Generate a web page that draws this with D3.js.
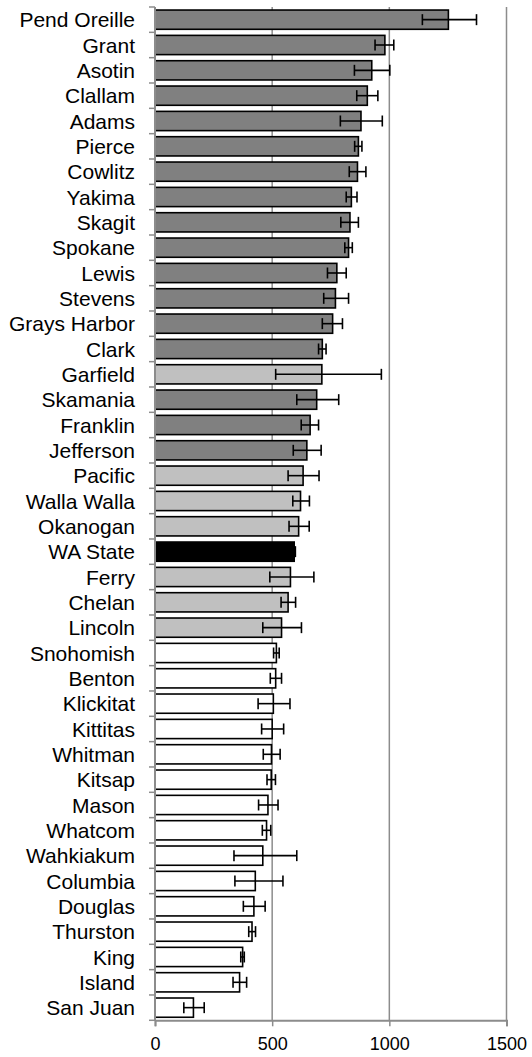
<!DOCTYPE html>
<html>
<head>
<meta charset="utf-8">
<script src="https://cdn.jsdelivr.net/npm/d3@7"></script>
<style>
  html, body { margin: 0; padding: 0; background: #fff; }
  svg { display: block; font-family: "Liberation Sans", Arial, sans-serif; }
</style>
</head>
<body>
<svg id="chart" width="532" height="1057"></svg>
<script>
// County rates with lower / upper confidence limits
const counties = ["Pend Oreille","Grant","Asotin","Clallam","Adams","Pierce","Cowlitz","Yakima","Skagit","Spokane",
  "Lewis","Stevens","Grays Harbor","Clark","Garfield","Skamania","Franklin","Jefferson","Pacific","Walla Walla",
  "Okanogan","WA State","Ferry","Chelan","Lincoln","Snohomish","Benton","Klickitat","Kittitas","Whitman",
  "Kitsap","Mason","Whatcom","Wahkiakum","Columbia","Douglas","Thurston","King","Island","San Juan"];
const rates = [1252,981,925,906,879,868,864,838,832,826,
  776,770,758,714,712,690,662,648,632,621,
  613,594,578,568,540,518,515,505,500,497,
  496,482,476,460,428,422,414,374,361,164];
const lower = [1141,939,851,861,791,852,829,816,793,810,
  736,720,714,698,515,605,624,590,568,588,
  572,589,490,538,460,506,492,440,455,462,
  478,442,458,337,341,377,400,366,333,123];
const upper = [1372,1019,1002,951,970,883,900,862,868,842,
  816,826,800,730,966,784,698,709,700,659,
  658,599,678,600,625,530,540,576,549,534,
  514,525,494,605,546,470,429,381,391,210];
// Comparison group of each county relative to the state rate
const groups = ["higher","higher","higher","higher","higher","higher","higher","higher","higher","higher",
  "higher","higher","higher","higher","similar","higher","higher","higher","similar","similar",
  "similar","state","similar","similar","similar","lower","lower","lower","lower","lower",
  "lower","lower","lower","lower","lower","lower","lower","lower","lower","lower"];
const xTicks = [0, 500, 1000, 1500];

const svg = d3.select("#chart");
const plotLeft = 155, plotRight = 506.5, plotTop = 7, plotBottom = 1020.3;

const x = d3.scaleLinear().domain([0, 1500]).range([plotLeft, plotRight]);
const y = d3.scaleBand().domain(counties).range([plotTop, plotBottom])
  .paddingInner(0.24).paddingOuter(0.12);
const fill = d3.scaleOrdinal()
  .domain(["higher","similar","state","lower"])
  .range(["#808080","#c0c0c0","#000000","#ffffff"]);

const axisColor = "#8c8c8c";

// vertical gridlines
svg.append("g").selectAll("line").data(xTicks.slice(1)).join("line")
  .attr("x1", d => x(d)).attr("x2", d => x(d))
  .attr("y1", plotTop).attr("y2", plotBottom)
  .attr("stroke", axisColor).attr("stroke-width", 1.5);

// bars
svg.append("g").selectAll("rect").data(counties).join("rect")
  .attr("x", x(0))
  .attr("y", d => y(d))
  .attr("width", (d, i) => x(rates[i]) - x(0))
  .attr("height", y.bandwidth())
  .attr("fill", (d, i) => fill(groups[i]))
  .attr("stroke", "#000").attr("stroke-width", 1.6);

// error bars
const capH = 11;
const eb = svg.append("g").attr("stroke", "#000").attr("stroke-width", 1.6);
counties.forEach((c, i) => {
  const cy = y(c) + y.bandwidth() / 2;
  eb.append("line").attr("x1", x(lower[i])).attr("x2", x(upper[i])).attr("y1", cy).attr("y2", cy);
  eb.append("line").attr("x1", x(lower[i])).attr("x2", x(lower[i])).attr("y1", cy - capH / 2).attr("y2", cy + capH / 2);
  eb.append("line").attr("x1", x(upper[i])).attr("x2", x(upper[i])).attr("y1", cy - capH / 2).attr("y2", cy + capH / 2);
});

// left axis: line, category boundary ticks, labels
const step = y.step();
svg.append("line").attr("x1", plotLeft).attr("x2", plotLeft).attr("y1", plotTop).attr("y2", plotBottom)
  .attr("stroke", axisColor).attr("stroke-width", 2);
svg.append("g").selectAll("line").data(d3.range(counties.length + 1)).join("line")
  .attr("x1", plotLeft - 6).attr("x2", plotLeft)
  .attr("y1", d => plotTop + d * step).attr("y2", d => plotTop + d * step)
  .attr("stroke", axisColor).attr("stroke-width", 1.5);
svg.append("g").selectAll("text").data(counties).join("text")
  .attr("x", 135)
  .attr("y", d => y(d) + y.bandwidth() / 2)
  .attr("dy", "0.36em")
  .attr("text-anchor", "end")
  .attr("font-size", 21)
  .attr("fill", "#000")
  .text(d => d);

// bottom axis
const xAxis = svg.append("g").attr("transform", `translate(0,${plotBottom})`)
  .call(d3.axisBottom(x).tickValues(xTicks).tickSize(6).tickPadding(11).tickFormat(d3.format("d")));
xAxis.select(".domain").attr("stroke", axisColor).attr("stroke-width", 2);
xAxis.selectAll(".tick line").attr("stroke", axisColor).attr("stroke-width", 1.5);
xAxis.selectAll(".tick text").attr("font-size", 18).attr("fill", "#000")
  .attr("font-family", "'Liberation Sans', Arial, sans-serif");
</script>
</body>
</html>
